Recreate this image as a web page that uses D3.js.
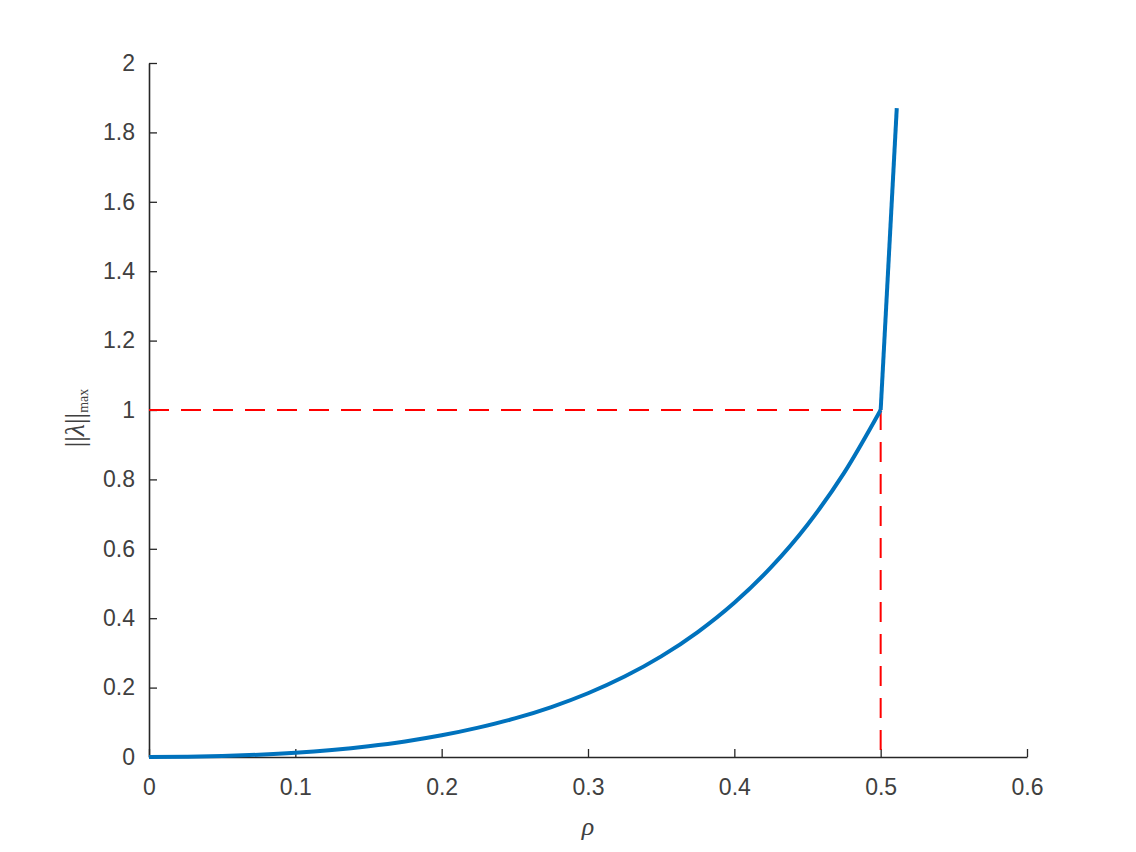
<!DOCTYPE html>
<html>
<head>
<meta charset="utf-8">
<script src="https://cdn.jsdelivr.net/npm/d3@7"></script>
<style>
  body { margin: 0; background: #fff; }
  svg { display: block; }
  .tick text { font-family: "Liberation Sans", Arial, sans-serif; font-size: 23px; fill: #404040; }
</style>
</head>
<body>
<svg id="chart" width="1136" height="852"></svg>
<script>
// values
var rho = [0, 0.025, 0.05, 0.075, 0.1, 0.125, 0.15, 0.175, 0.2, 0.225, 0.25,
           0.275, 0.3, 0.325, 0.35, 0.375, 0.4, 0.425, 0.45, 0.475, 0.5, 0.511];
var lamMax = [0, 0.0007, 0.0028, 0.0066, 0.0123, 0.0204, 0.0311, 0.0449, 0.0625, 0.0847, 0.1111,
              0.1439, 0.1837, 0.2318, 0.2899, 0.36, 0.4444, 0.5463, 0.6694, 0.8186, 1.0, 1.87];
var xTicks = [0, 0.1, 0.2, 0.3, 0.4, 0.5, 0.6];
var yTicks = [0, 0.2, 0.4, 0.6, 0.8, 1, 1.2, 1.4, 1.6, 1.8, 2];
var critRho = 0.5, critLam = 1;

var svg = d3.select("#chart");
var mLeft = 149, mRight = 1027, mTop = 63, mBottom = 757;

var x = d3.scaleLinear().domain([0, 0.6]).range([mLeft, mRight]);
var y = d3.scaleLinear().domain([0, 2]).range([mBottom, mTop]);

var fmt = function(d) { return String(+d.toFixed(1)); };

var xAxis = svg.append("g")
    .attr("transform", "translate(0," + mBottom + ")")
    .call(d3.axisBottom(x).tickValues(xTicks).tickSizeInner(-8).tickSizeOuter(0).tickPadding(22).tickFormat(fmt));
var yAxis = svg.append("g")
    .attr("transform", "translate(" + mLeft + ",0)")
    .call(d3.axisLeft(y).tickValues(yTicks).tickSizeInner(-8).tickSizeOuter(0).tickPadding(14).tickFormat(fmt));

[xAxis, yAxis].forEach(function(g) {
    g.select(".domain").attr("stroke", "#262626").attr("stroke-width", 1.6);
    g.selectAll(".tick line").attr("stroke", "#262626").attr("stroke-width", 1.3);
});

// dashed reference lines
var dash = svg.append("g")
    .attr("fill", "none")
    .attr("stroke", "#ff0000")
    .attr("stroke-width", 2)
    .attr("stroke-dasharray", "20,12");
dash.append("line")
    .attr("x1", x(0)).attr("y1", y(critLam))
    .attr("x2", x(critRho)).attr("y2", y(critLam));
dash.append("line")
    .attr("x1", x(critRho)).attr("y1", y(critLam))
    .attr("x2", x(critRho)).attr("y2", y(0));

var pts = rho.map(function(r, i) { return [r, lamMax[i]]; });
var line = d3.line()
    .x(function(d) { return x(d[0]); })
    .y(function(d) { return y(d[1]); })
    .curve(d3.curveMonotoneX);

svg.append("path")
    .datum(pts.slice(0, 21))
    .attr("fill", "none")
    .attr("stroke", "#0072BD")
    .attr("stroke-width", 4)
    .attr("d", line);
svg.append("path")
    .datum(pts.slice(20))
    .attr("fill", "none")
    .attr("stroke", "#0072BD")
    .attr("stroke-width", 4)
    .attr("d", d3.line().x(function(d) { return x(d[0]); }).y(function(d) { return y(d[1]); }));

// axis labels
svg.append("text")
    .attr("x", (mLeft + mRight) / 2)
    .attr("y", 835)
    .attr("text-anchor", "middle")
    .attr("font-family", "'Liberation Serif', 'DejaVu Serif', serif")
    .attr("font-style", "italic")
    .attr("font-size", 26)
    .attr("fill", "#404040")
    .text("ρ");

var yl = svg.append("text")
    .attr("transform", "translate(84,418) rotate(-90)")
    .attr("text-anchor", "middle")
    .attr("font-family", "'Liberation Serif', 'DejaVu Serif', serif")
    .attr("font-size", 28)
    .attr("fill", "#404040");
yl.append("tspan").text("||");
yl.append("tspan").attr("font-style", "italic").text("λ");
yl.append("tspan").text("||");
yl.append("tspan").attr("font-size", 14).attr("dy", 4).text("max");
</script>
</body>
</html>
